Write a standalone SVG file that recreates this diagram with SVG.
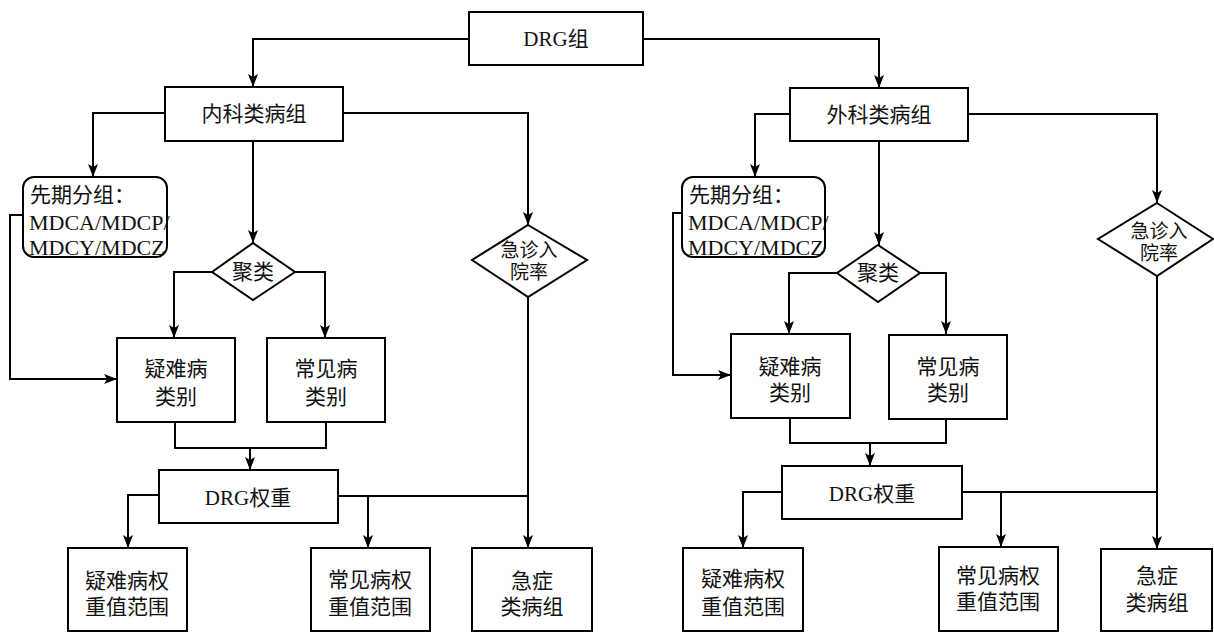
<svg xmlns="http://www.w3.org/2000/svg" width="1214" height="633" viewBox="0 0 1214 633">
<style>
.box{fill:#fff;stroke:#000;stroke-width:2}
.ln{fill:none;stroke:#000;stroke-width:2}
.arr{marker-end:url(#ah)}
text{font-family:"Liberation Serif","Noto Sans CJK SC",serif;font-size:21px;fill:#111;dominant-baseline:central}
.c{text-anchor:middle}
.m{font-size:22px}
.d{font-size:19px}
</style>
<defs>
<marker id="ah" markerUnits="userSpaceOnUse" markerWidth="14" markerHeight="10" refX="13" refY="5" orient="auto">
<path d="M0,0 L13,5 L0,10 L3,5 Z" fill="#000"/>
</marker>
</defs>
<g id="connectors">
<path class="ln arr" d="M469,39 H253 V87"/>
<path class="ln arr" d="M643,39 H879 V88"/>
<path class="ln arr" d="M165,113 H93 V177"/>
<path class="ln arr" d="M253,141 V243"/>
<path class="ln arr" d="M343,113 H528 V225"/>
<path class="ln arr" d="M23,215 H10 V379 H117"/>
<path class="ln arr" d="M212,272 H174 V338"/>
<path class="ln arr" d="M295,272 H325 V338"/>
<path class="ln" d="M175,422 V448 H326 V422"/>
<path class="ln arr" d="M250,448 V470"/>
<path class="ln arr" d="M159,495 H128 V548"/>
<path class="ln" d="M338,496 H528"/>
<path class="ln arr" d="M368,496 V548"/>
<path class="ln arr" d="M528,297 V548"/>
<path class="ln arr" d="M790,114 H755 V177"/>
<path class="ln arr" d="M879,141 V245"/>
<path class="ln arr" d="M968,114 H1157 V203"/>
<path class="ln arr" d="M682,213 H673 V375 H731"/>
<path class="ln arr" d="M837,273 H789 V334"/>
<path class="ln arr" d="M920,273 H946 V334"/>
<path class="ln" d="M790,418 V443 H946 V418"/>
<path class="ln arr" d="M870,443 V466"/>
<path class="ln arr" d="M782,492 H743 V548"/>
<path class="ln" d="M962,492 H1157"/>
<path class="ln arr" d="M1001,492 V547"/>
<path class="ln arr" d="M1157,276 V549"/>
</g>
<g id="drg">
<rect class="box" x="469" y="12" width="174" height="53"/>
<text class="c" x="556" y="39">DRG组</text>
</g>
<g id="neike">
<rect class="box" x="165" y="87" width="178" height="54"/>
<text class="c" x="254" y="114">内科类病组</text>
</g>
<g id="waike">
<rect class="box" x="790" y="88" width="178" height="53"/>
<text class="c" x="879" y="115">外科类病组</text>
</g>
<g id="l-xianqi">
<rect class="box" x="23" y="177" width="144" height="80" rx="11"/>
<text x="30" y="195">先期分组：</text>
<text class="m" x="29" y="222">MDCA/MDCP/</text>
<text class="m" x="29" y="247">MDCY/MDCZ</text>
</g>
<g id="l-julei">
<polygon class="box" points="253,243 295,272 253,300 212,272"/>
<text class="c" x="253" y="272">聚类</text>
</g>
<g id="l-jizhen">
<polygon class="box" points="528,225 587,260 528,297 472,260"/>
<text class="c d" x="529" y="250">急诊入</text>
<text class="c d" x="529" y="272">院率</text>
</g>
<g id="l-yinan">
<rect class="box" x="117" y="338" width="118" height="84"/>
<text class="c" x="176" y="369">疑难病</text>
<text class="c" x="176" y="397">类别</text>
</g>
<g id="l-changjian">
<rect class="box" x="267" y="338" width="118" height="84"/>
<text class="c" x="326" y="369">常见病</text>
<text class="c" x="326" y="397">类别</text>
</g>
<g id="l-quanzhong">
<rect class="box" x="159" y="470" width="179" height="53"/>
<text class="c" x="248" y="498">DRG权重</text>
</g>
<g id="l-yinanqz">
<rect class="box" x="68" y="548" width="119" height="83"/>
<text class="c" x="127" y="581">疑难病权</text>
<text class="c" x="127" y="607">重值范围</text>
</g>
<g id="l-changjianqz">
<rect class="box" x="311" y="548" width="119" height="83"/>
<text class="c" x="370" y="580">常见病权</text>
<text class="c" x="370" y="607">重值范围</text>
</g>
<g id="l-jizheng">
<rect class="box" x="472" y="548" width="120" height="83"/>
<text class="c" x="532" y="581">急症</text>
<text class="c" x="532" y="607">类病组</text>
</g>
<g id="r-xianqi">
<rect class="box" x="682" y="177" width="143" height="80" rx="11"/>
<text x="689" y="195">先期分组：</text>
<text class="m" x="688" y="222">MDCA/MDCP/</text>
<text class="m" x="688" y="247">MDCY/MDCZ</text>
</g>
<g id="r-julei">
<polygon class="box" points="878,245 920,273 878,302 837,273"/>
<text class="c" x="878" y="273">聚类</text>
</g>
<g id="r-jizhen">
<polygon class="box" points="1157,203 1213,239 1157,276 1098,239"/>
<text class="c d" x="1159" y="231">急诊入</text>
<text class="c d" x="1159" y="253">院率</text>
</g>
<g id="r-yinan">
<rect class="box" x="731" y="334" width="119" height="84"/>
<text class="c" x="790" y="367">疑难病</text>
<text class="c" x="790" y="393">类别</text>
</g>
<g id="r-changjian">
<rect class="box" x="889" y="335" width="118" height="84"/>
<text class="c" x="948" y="367">常见病</text>
<text class="c" x="948" y="393">类别</text>
</g>
<g id="r-quanzhong">
<rect class="box" x="782" y="466" width="180" height="53"/>
<text class="c" x="872" y="494">DRG权重</text>
</g>
<g id="r-yinanqz">
<rect class="box" x="683" y="548" width="120" height="83"/>
<text class="c" x="743" y="579">疑难病权</text>
<text class="c" x="743" y="607">重值范围</text>
</g>
<g id="r-changjianqz">
<rect class="box" x="939" y="547" width="119" height="84"/>
<text class="c" x="998" y="576">常见病权</text>
<text class="c" x="998" y="602">重值范围</text>
</g>
<g id="r-jizheng">
<rect class="box" x="1101" y="549" width="111" height="82"/>
<text class="c" x="1157" y="576">急症</text>
<text class="c" x="1157" y="603">类病组</text>
</g>
</svg>
